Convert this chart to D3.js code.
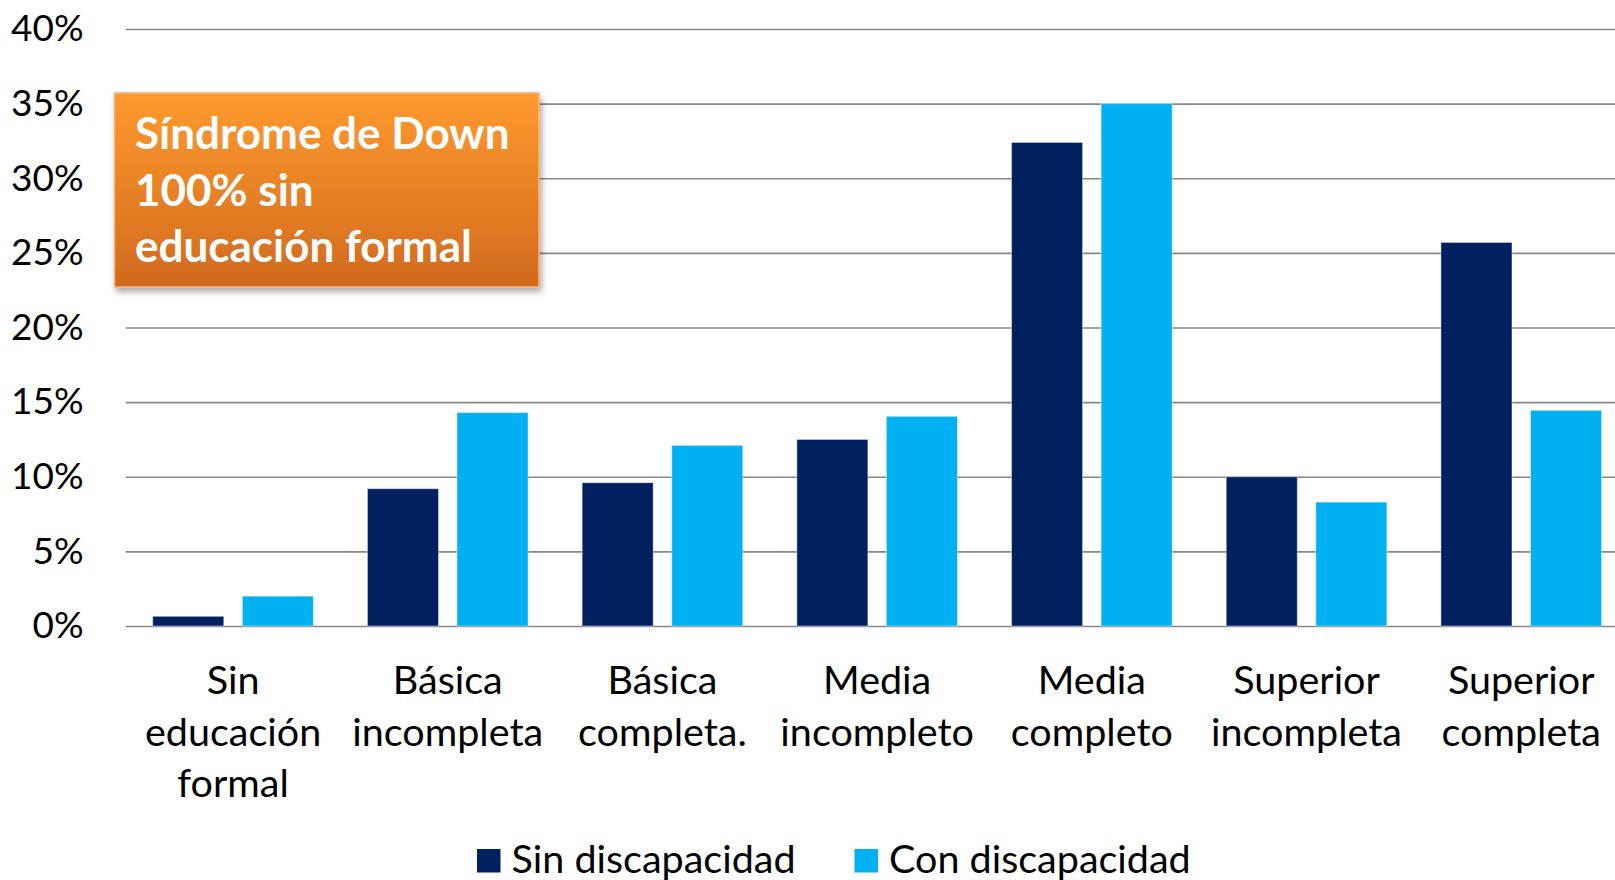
<!DOCTYPE html>
<html lang="es">
<head>
    <meta charset="UTF-8">
    <title>Nivel educativo según discapacidad</title>
    <script src="https://d3js.org/d3.v7.min.js"></script>
    <style>
        body {
            margin: 0;
            background: #fff;
            font-family: Lato, 'Open Sans', sans-serif;
        }
        .grid line { stroke: #888; stroke-width: 1.6; }
        .grid .domain { display: none; }
        .ylab text, .xlab text, .legend text { fill: #000; }
    </style>
</head>
<body>
<div id="chart"></div>
<script>
// data
const categories = ["Sin educación formal", "Básica incompleta", "Básica completa.", "Media incompleto",
                    "Media completo", "Superior incompleta", "Superior completa"];
const seriesNames = ["Sin discapacidad", "Con discapacidad"];
const sinDiscapacidad = [0.65, 9.2, 9.6, 12.5, 32.4, 10.0, 25.7];
const conDiscapacidad = [2.0, 14.3, 12.1, 14.05, 35.0, 8.3, 14.45];
const yTicks = [0, 5, 10, 15, 20, 25, 30, 35, 40];
const noteLines = ["Síndrome de Down", "100% sin", "educación formal"];

const W = 1615, H = 880;
const plot = { left: 125.7, top: 29, bottom: 626, step: 214.7 };
const colors = ["#002060", "#00B0F0"];

const rows = categories.map((c, i) => ({ cat: c, values: [sinDiscapacidad[i], conDiscapacidad[i]] }));

const svg = d3.select("#chart").append("svg")
    .attr("width", W)
    .attr("height", H);

const x = d3.scaleBand()
    .domain(categories)
    .range([plot.left, plot.left + plot.step * categories.length])
    .padding(0);

const xs = d3.scaleBand()
    .domain(seriesNames)
    .range([0, x.bandwidth()])
    .paddingInner(0.2067)
    .paddingOuter(0.3017);

const y = d3.scaleLinear()
    .domain([0, 40])
    .range([plot.bottom, plot.top]);

// grid lines
svg.append("g")
    .attr("class", "grid")
    .attr("transform", `translate(${plot.left},0)`)
    .call(d3.axisLeft(y).tickValues(yTicks).tickSize(-(W - plot.left)).tickFormat(""));

// y labels
svg.append("g")
    .attr("class", "ylab")
    .attr("transform", `translate(${plot.left},0)`)
    .call(d3.axisLeft(y).tickValues(yTicks).tickSize(0).tickPadding(42).tickFormat(d => d + "%"))
    .call(g => g.select(".domain").remove())
    .selectAll("text")
    .attr("font-family", "Lato, sans-serif")
    .attr("font-size", 37);

// bars
const groups = svg.append("g").selectAll("g")
    .data(rows)
    .join("g")
    .attr("transform", d => `translate(${x(d.cat)},0)`);

groups.selectAll("rect")
    .data(d => d.values.map((v, k) => ({ key: seriesNames[k], v: v, k: k })))
    .join("rect")
    .attr("x", d => xs(d.key))
    .attr("y", d => y(d.v))
    .attr("width", xs.bandwidth())
    .attr("height", d => y(0) - y(d.v))
    .attr("fill", d => colors[d.k])
    .attr("stroke", "rgba(255,255,255,0.45)")
    .attr("stroke-width", 1);

// x labels, one word per line
const xlab = svg.append("g").attr("class", "xlab")
    .attr("font-family", "Lato, sans-serif")
    .attr("font-size", 39.5)
    .attr("text-anchor", "middle");

xlab.selectAll("text")
    .data(categories)
    .join("text")
    .attr("x", d => x(d) + x.bandwidth() / 2)
    .attr("y", 694)
    .each(function(d) {
        const t = d3.select(this);
        d.split(" ").forEach((w, i) => {
            t.append("tspan")
                .attr("x", x(d) + x.bandwidth() / 2)
                .attr("dy", i === 0 ? 0 : 51.5)
                .text(w);
        });
    });

// legend
const legendX = [477, 854.5];
const legend = svg.append("g").attr("class", "legend")
    .selectAll("g")
    .data(seriesNames)
    .join("g")
    .attr("transform", (d, i) => `translate(${legendX[i]},849)`);

legend.append("rect")
    .attr("width", 23.5)
    .attr("height", 23.5)
    .attr("fill", (d, i) => colors[i]);

legend.append("text")
    .attr("x", 34.5)
    .attr("y", 23.5)
    .attr("font-family", "Lato, sans-serif")
    .attr("font-size", 39.5)
    .text(d => d);

// orange note box
const defs = svg.append("defs");
const grad = defs.append("linearGradient")
    .attr("id", "orange")
    .attr("x1", 0).attr("y1", 0).attr("x2", 0).attr("y2", 1);
grad.append("stop").attr("offset", "0%").attr("stop-color", "#FF9A2E");
grad.append("stop").attr("offset", "100%").attr("stop-color", "#D06A1E");

const shadow = defs.append("filter")
    .attr("id", "shadow")
    .attr("x", "-10%").attr("y", "-10%").attr("width", "130%").attr("height", "130%");
shadow.append("feDropShadow")
    .attr("dx", 2).attr("dy", 4).attr("stdDeviation", 3)
    .attr("flood-color", "#000").attr("flood-opacity", 0.35);

const note = svg.append("g");
note.append("rect")
    .attr("x", 114.5)
    .attr("y", 93)
    .attr("width", 424.5)
    .attr("height", 194)
    .attr("fill", "url(#orange)")
    .attr("stroke", "#F8B27A")
    .attr("stroke-width", 1.5)
    .attr("filter", "url(#shadow)");

note.append("text")
    .attr("font-family", "Lato, sans-serif")
    .attr("font-weight", "bold")
    .attr("font-size", 44)
    .attr("fill", "#fff")
    .selectAll("tspan")
    .data(noteLines)
    .join("tspan")
    .attr("x", 135)
    .attr("y", (d, i) => 149 + i * 56.5)
    .text(d => d);
</script>
</body>
</html>
